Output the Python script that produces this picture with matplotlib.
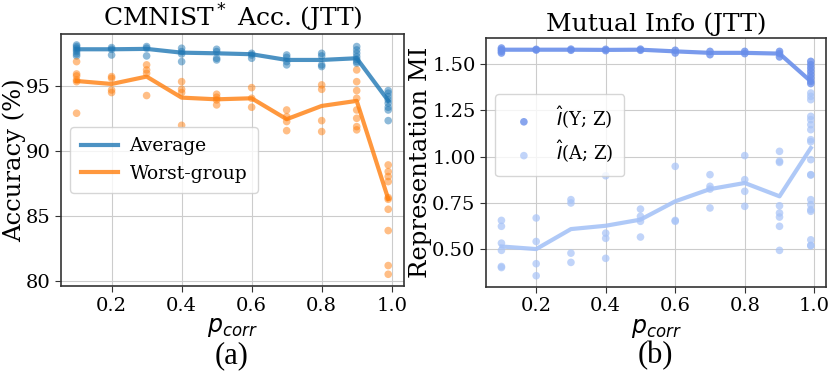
#!/usr/bin/env python3
# coding: utf-8

import matplotlib
matplotlib.use('Agg')
import matplotlib.pyplot as plt

# ---- data ----
p_corr = [0.1, 0.2, 0.3, 0.4, 0.5, 0.6, 0.7, 0.8, 0.9, 0.99]

# panel (a): per-run accuracies and mean lines
acc_avg_runs = [
    [98.15, 98.03, 97.9, 97.77, 97.64, 97.46, 97.31],
    [97.95, 97.82, 97.38],
    [98.03, 97.9, 97.31],
    [97.9, 97.64, 97.46, 96.87],
    [97.82, 97.64, 97.13, 97.0],
    [97.51, 97.38, 97.13],
    [97.38, 97.2, 96.87, 96.62],
    [97.51, 97.31, 96.62, 96.49],
    [98.03, 97.77, 97.51, 97.26, 97.05, 96.87, 96.74],
    [94.64, 94.44, 94.18, 93.92, 93.67, 93.36, 93.15, 92.33],
]
acc_avg_mean = [97.82, 97.82, 97.85, 97.56, 97.51, 97.44, 97.0, 97.0, 97.13, 93.87]

acc_wg_runs = [
    [96.87, 95.92, 95.77, 95.46, 95.33, 92.9],
    [95.72, 95.59, 94.69, 94.49],
    [96.62, 96.23, 95.97, 94.26],
    [95.33, 94.74, 94.49, 91.97],
    [94.36, 94.13, 93.92, 93.54],
    [94.87, 94.05, 93.36],
    [93.15, 92.64, 92.26, 91.56],
    [95.08, 94.74, 92.33, 91.49],
    [96.23, 95.33, 94.64, 94.05, 93.15, 92.51, 91.87, 91.62],
    [88.92, 88.41, 88.03, 87.64, 86.41, 86.28, 85.51, 83.87, 81.18, 80.51],
]
acc_wg_mean = [95.38, 95.15, 95.72, 94.1, 93.97, 94.05, 92.44, 93.46, 93.85, 86.31]

# panel (b): mutual information estimates
mi_yz_runs = [
    [1.586, 1.577, 1.568, 1.559],
    [1.579, 1.575],
    [1.58, 1.574],
    [1.579, 1.572],
    [1.58, 1.574],
    [1.574, 1.559],
    [1.568, 1.55],
    [1.568, 1.556],
    [1.568, 1.556, 1.538],
    [1.514, 1.496, 1.478, 1.46, 1.442, 1.424, 1.406, 1.394],
]
mi_yz_mean = [1.577, 1.577, 1.577, 1.576, 1.577, 1.568, 1.56, 1.56, 1.556, 1.406]

mi_az_runs = [
    [0.655, 0.623, 0.532, 0.493, 0.406, 0.40],
    [0.668, 0.541, 0.421, 0.356],
    [0.767, 0.749, 0.478, 0.428],
    [0.896, 0.586, 0.558, 0.45],
    [0.716, 0.677, 0.65, 0.565],
    [0.947, 0.65, 0.655],
    [0.902, 0.839, 0.824, 0.722],
    [1.005, 0.875, 0.812, 0.731],
    [1.028, 0.968, 0.975, 0.734, 0.695, 0.673, 0.623, 0.493],
    [1.343, 1.325, 1.307, 1.217, 1.199, 1.172, 1.145, 1.091, 1.08, 0.983,
     0.902, 0.90, 0.767, 0.74, 0.713, 0.704, 0.55, 0.518, 0.52],
]
mi_az_mean = [0.514, 0.50, 0.608, 0.626, 0.659, 0.758, 0.824, 0.857, 0.785, 1.046]

# ---- style ----
plt.rcParams['font.family'] = ['DejaVu Serif']
plt.rcParams['mathtext.fontset'] = 'dejavusans'

C_AVG = '#1f77b4'
C_WG = '#ff7f0e'
C_YZ = '#6a8fea'
C_AZ = '#a7c3f7'


def scatter_runs(ax, xs, runs, color, alpha=0.5):
    for x, vals in zip(xs, runs):
        ax.scatter([x] * len(vals), vals, s=30, color=color, alpha=alpha,
                   edgecolors='none', zorder=3)


def style_axes(ax):
    ax.grid(True, color='#cccccc', linewidth=0.8)
    ax.set_axisbelow(True)
    for sp in ax.spines.values():
        sp.set_color('#333333')
        sp.set_linewidth(1.2)
    ax.tick_params(labelsize=14, length=4, color='#333333')
    ax.set_xticks([0.2, 0.4, 0.6, 0.8, 1.0])
    ax.set_xlabel('$p_{corr}$', fontsize=17, labelpad=1)


fig = plt.figure(figsize=(8.3, 3.73), dpi=100)
ax1 = fig.add_axes([0.0735, 0.233, 0.413, 0.676])
ax2 = fig.add_axes([0.5855, 0.231, 0.41, 0.668])

# (a)
scatter_runs(ax1, p_corr, acc_avg_runs, C_AVG)
scatter_runs(ax1, p_corr, acc_wg_runs, C_WG)
ax1.plot(p_corr, acc_avg_mean, color=C_AVG, lw=3, alpha=0.8, label='Average', zorder=4)
ax1.plot(p_corr, acc_wg_mean, color=C_WG, lw=3, alpha=0.8, label='Worst-group', zorder=4)
ax1.set_ylim(79.6, 99.0)
ax1.set_yticks([80, 85, 90, 95])
style_axes(ax1)
ax1.set_ylabel('Accuracy (%)', fontsize=17.5, labelpad=0)
ax1.set_title('CMNIST$^*$ Acc. (JTT)', fontsize=18, pad=5)
ax1.legend(loc='center left', fontsize=13.5, handlelength=2.0,
           handletextpad=0.6, borderpad=0.55)

# (b)
scatter_runs(ax2, p_corr, mi_yz_runs, C_YZ, alpha=0.8)
scatter_runs(ax2, p_corr, mi_az_runs, C_AZ, alpha=0.7)
ax2.plot(p_corr, mi_yz_mean, color=C_YZ, lw=3, alpha=0.9, zorder=4)
ax2.plot(p_corr, mi_az_mean, color=C_AZ, lw=3, alpha=0.9, zorder=4)
ax2.scatter([], [], s=30, color=C_YZ, alpha=0.8, edgecolors='none', label=r'$\hat{I}$(Y; Z)')
ax2.scatter([], [], s=30, color=C_AZ, alpha=0.7, edgecolors='none', label=r'$\hat{I}$(A; Z)')
ax2.set_ylim(0.296, 1.642)
ax2.set_yticks([0.5, 0.75, 1.0, 1.25, 1.5])
style_axes(ax2)
ax2.set_ylabel('Representation MI', fontsize=17.5, labelpad=0)
ax2.set_title('Mutual Info (JTT)', fontsize=18, pad=5)
ax2.legend(loc='upper left', bbox_to_anchor=(0.0, 0.81), fontsize=13,
           handletextpad=0.8, borderpad=0.6, labelspacing=0.4)

ax1.set_xlim(0.0555, 1.0345)
ax2.set_xlim(0.0555, 1.0345)

fig.text(0.2795, 0.047, '(a)', ha='center', va='center', fontsize=22,
         family='Liberation Serif')
fig.text(0.79, 0.047, '(b)', ha='center', va='center', fontsize=22,
         family='Liberation Serif')

fig.savefig('out.png', dpi=100)
